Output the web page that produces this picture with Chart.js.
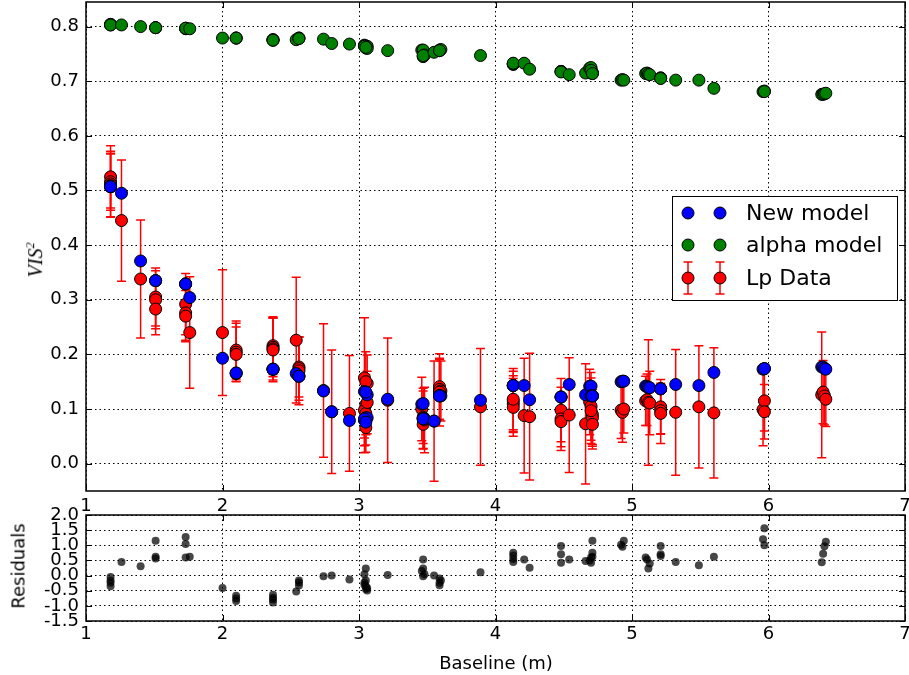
<!DOCTYPE html>
<html>
<head>
<meta charset="utf-8">
<script src="https://cdn.jsdelivr.net/npm/chart.js@4.4.1/dist/chart.umd.min.js"></script>
<style>
  html, body { margin: 0; padding: 0; background: #fff; }
  body { width: 909px; height: 675px; position: relative; overflow: hidden; font-family: "DejaVu Sans", sans-serif; }
  #chart-top { position: absolute; left: 0; top: 0; }
  #chart-res { position: absolute; left: 0; top: 500px; }
  .lbl { position: absolute; color: #000; white-space: nowrap; transform: translate(-50%, -50%); font-size: 18px; }
  .rot { transform: translate(-50%, -50%) rotate(-90deg); }
  #ylab { font-family: "Liberation Serif", "DejaVu Serif", serif; font-style: italic; font-size: 20px; }
  #ylab sup { font-size: 12px; }
</style>
</head>
<body>
<canvas id="chart-top" width="909" height="520" style="width:909px;height:520px"></canvas>
<canvas id="chart-res" width="909" height="175" style="width:909px;height:175px"></canvas>
<div class="lbl rot" id="ylab" style="left:35px;top:260px">VIS<sup>2</sup></div>
<div class="lbl rot" style="left:18px;top:566px">Residuals</div>
<div class="lbl" style="left:496px;top:662px">Baseline (m)</div>
<script>
const baseline = [
  1.18, 1.18, 1.18, 1.18, 1.26, 1.40, 1.51, 1.51, 1.51, 1.73, 1.73, 1.73, 1.76,
  2.00, 2.10, 2.10, 2.10, 2.37, 2.37, 2.37, 2.37, 2.54, 2.56, 2.56, 2.56, 2.74, 2.80, 2.93,
  3.04, 3.06, 3.05, 3.05, 3.04, 3.05, 3.06, 3.04, 3.05, 3.21,
  3.46, 3.47, 3.47, 3.48, 3.47, 3.55, 3.59, 3.59, 3.60, 3.59, 3.89,
  4.13, 4.13, 4.13, 4.13, 4.21, 4.25, 4.48, 4.48, 4.48, 4.54, 4.66,
  4.69, 4.70, 4.71, 4.71, 4.70, 4.71, 4.92, 4.93, 4.94,
  5.10, 5.11, 5.12, 5.13, 5.21, 5.21, 5.21, 5.32, 5.49, 5.60,
  5.96, 5.97, 5.97, 6.39, 6.40, 6.41, 6.42
];
const vis2 = [
  0.525, 0.516, 0.512, 0.509, 0.445, 0.338, 0.305, 0.300, 0.283, 0.292, 0.276, 0.270, 0.240,
  0.240, 0.208, 0.204, 0.200, 0.216, 0.213, 0.210, 0.208, 0.226, 0.177, 0.174, 0.170, 0.134, 0.095, 0.092,
  0.157, 0.147, 0.150, 0.108, 0.098, 0.092, 0.112, 0.080, 0.066, 0.116,
  0.100, 0.085, 0.072, 0.080, 0.083, 0.078, 0.141, 0.136, 0.133, 0.131, 0.104,
  0.114, 0.109, 0.103, 0.118, 0.088, 0.086, 0.098, 0.082, 0.077, 0.089, 0.073,
  0.113, 0.105, 0.090, 0.084, 0.097, 0.072, 0.098, 0.094, 0.100,
  0.115, 0.117, 0.112, 0.111, 0.104, 0.097, 0.092, 0.094, 0.104, 0.093,
  0.099, 0.115, 0.095, 0.126, 0.131, 0.124, 0.118
];
const vis2Err = [
  0.057, 0.052, 0.060, 0.058, 0.111, 0.108, 0.053, 0.053, 0.047, 0.056, 0.050, 0.047, 0.102,
  0.115, 0.053, 0.053, 0.050, 0.053, 0.054, 0.057, 0.058, 0.115, 0.055, 0.058, 0.062, 0.122, 0.113, 0.106,
  0.110, 0.052, 0.055, 0.055, 0.065, 0.058, 0.057, 0.060, 0.045, 0.114,
  0.058, 0.048, 0.045, 0.060, 0.055, 0.110, 0.060, 0.055, 0.055, 0.062, 0.107,
  0.055, 0.052, 0.053, 0.056, 0.105, 0.116, 0.058, 0.058, 0.046, 0.105, 0.110,
  0.060, 0.062, 0.055, 0.052, 0.060, 0.045, 0.052, 0.055, 0.044,
  0.045, 0.047, 0.115, 0.058, 0.050, 0.042, 0.055, 0.115, 0.112, 0.119,
  0.066, 0.055, 0.050, 0.115, 0.058, 0.053, 0.050
];
const newModel = [
  0.507, 0.507, 0.507, 0.507, 0.495, 0.371, 0.335, 0.335, 0.335, 0.329, 0.329, 0.329, 0.304,
  0.193, 0.165, 0.166, 0.166, 0.173, 0.173, 0.173, 0.173, 0.165, 0.160, 0.160, 0.160, 0.133, 0.095, 0.079,
  0.132, 0.126, 0.131, 0.084, 0.080, 0.083, 0.084, 0.082, 0.076, 0.118,
  0.109, 0.110, 0.082, 0.082, 0.082, 0.078, 0.125, 0.124, 0.124, 0.124, 0.116,
  0.143, 0.143, 0.143, 0.143, 0.143, 0.117, 0.122, 0.122, 0.122, 0.145, 0.126,
  0.142, 0.142, 0.124, 0.124, 0.124, 0.124, 0.150, 0.151, 0.151,
  0.142, 0.141, 0.140, 0.139, 0.137, 0.137, 0.137, 0.145, 0.143, 0.167,
  0.173, 0.174, 0.174, 0.177, 0.177, 0.174, 0.173
];
const alphaModel = [
  0.804, 0.804, 0.803, 0.803, 0.803, 0.800, 0.798, 0.798, 0.798, 0.796, 0.797, 0.797, 0.796,
  0.779, 0.779, 0.779, 0.779, 0.776, 0.776, 0.775, 0.775, 0.776, 0.779, 0.779, 0.778, 0.777, 0.769, 0.768,
  0.766, 0.764, 0.763, 0.762, 0.765, 0.761, 0.760, 0.764, 0.762, 0.756,
  0.757, 0.757, 0.745, 0.748, 0.747, 0.753, 0.757, 0.756, 0.758, 0.756, 0.747,
  0.731, 0.731, 0.732, 0.733, 0.733, 0.722, 0.718, 0.718, 0.717, 0.712, 0.715,
  0.724, 0.725, 0.714, 0.716, 0.720, 0.714, 0.702, 0.703, 0.702,
  0.714, 0.715, 0.713, 0.712, 0.706, 0.706, 0.705, 0.702, 0.702, 0.687,
  0.681, 0.682, 0.681, 0.676, 0.676, 0.677, 0.678
];
const residual = [
  -0.35, -0.24, -0.16, -0.05, 0.45, 0.31, 0.56, 0.62, 1.15, 0.60, 1.04, 1.27, 0.62,
  -0.41, -0.84, -0.76, -0.67, -0.89, -0.79, -0.73, -0.63, -0.53, -0.33, -0.23, -0.16, -0.02, 0.00, -0.13,
  -0.23, -0.41, -0.35, -0.44, -0.30, -0.16, -0.49, 0.04, 0.23, 0.02,
  0.15, 0.53, 0.23, 0.04, -0.02, 0.00, -0.32, -0.24, -0.16, -0.10, 0.11,
  0.55, 0.66, 0.75, 0.45, 0.53, 0.26, 0.42, 0.70, 0.98, 0.53, 0.48,
  0.50, 0.60, 0.62, 0.75, 0.42, 1.15, 1.02, 0.95, 1.15,
  0.60, 0.53, 0.23, 0.40, 0.65, 0.98, 0.70, 0.45, 0.34, 0.62,
  1.20, 1.00, 1.56, 0.44, 0.72, 0.97, 1.12
];

const xTicks = [1, 2, 3, 4, 5, 6, 7];
const visTicks = [0.0, 0.1, 0.2, 0.3, 0.4, 0.5, 0.6, 0.7, 0.8];
const resTicks = [-1.5, -1.0, -0.5, 0.0, 0.5, 1.0, 1.5, 2.0];
const legendLabels = ['New model', 'alpha model', 'Lp Data'];

const FONT = '"DejaVu Sans", sans-serif';
const pts = (xs, ys) => xs.map((x, i) => ({ x: x, y: ys[i] }));

function axis(min, max, tickVals, fmt, pad, opts) {
    return Object.assign({
        type: 'linear',
        min: min,
        max: max,
        afterBuildTicks: s => { s.ticks = tickVals.map(v => ({ value: v })); },
        grid: { color: '#000', lineWidth: 1, drawTicks: false },
        border: { display: false, dash: [1.5, 3] },
        ticks: {
            color: '#000',
            font: { family: FONT, size: 18 },
            autoSkip: false,
            maxRotation: 0,
            padding: pad,
            callback: fmt,
        },
    }, opts);
}

const errorBars = {
    id: 'errorBars',
    beforeDatasetsDraw(chart) {
        const { ctx, chartArea: a, scales: { x, y } } = chart;
        ctx.save();
        ctx.beginPath();
        ctx.rect(a.left, a.top, a.right - a.left, a.bottom - a.top);
        ctx.clip();
        ctx.strokeStyle = '#ff0000';
        ctx.lineWidth = 1.5;
        baseline.forEach((b, i) => {
            const px = x.getPixelForValue(b);
            const hi = y.getPixelForValue(vis2[i] + vis2Err[i]);
            const lo = y.getPixelForValue(vis2[i] - vis2Err[i]);
            ctx.beginPath();
            ctx.moveTo(px, hi); ctx.lineTo(px, lo);
            ctx.moveTo(px - 4.5, hi); ctx.lineTo(px + 4.5, hi);
            ctx.moveTo(px - 4.5, lo); ctx.lineTo(px + 4.5, lo);
            ctx.stroke();
        });
        ctx.restore();
    }
};

// box round the axes plus inward tick marks on all four sides
const frame = {
    id: 'frame',
    afterDatasetsDraw(chart) {
        const { ctx, chartArea: a, scales: { x, y } } = chart;
        ctx.save();
        ctx.strokeStyle = '#000';
        ctx.lineWidth = 1;
        ctx.beginPath();
        x.ticks.forEach(t => {
            const px = Math.round(x.getPixelForValue(t.value)) + 0.5;
            ctx.moveTo(px, a.bottom); ctx.lineTo(px, a.bottom - 6);
            ctx.moveTo(px, a.top); ctx.lineTo(px, a.top + 6);
        });
        y.ticks.forEach(t => {
            const py = Math.round(y.getPixelForValue(t.value)) + 0.5;
            ctx.moveTo(a.left, py); ctx.lineTo(a.left + 6, py);
            ctx.moveTo(a.right, py); ctx.lineTo(a.right - 6, py);
        });
        ctx.stroke();
        ctx.lineWidth = 1.5;
        ctx.strokeRect(a.left, a.top, a.right - a.left, a.bottom - a.top);
        ctx.restore();
    }
};

const legendBox = {
    id: 'legendBox',
    afterDraw(chart) {
        const { ctx } = chart;
        const colors = ['#0000ff', '#008000', '#ff0000'];
        const rows = [213, 245, 278];
        ctx.save();
        ctx.fillStyle = '#fff';
        ctx.strokeStyle = '#000';
        ctx.lineWidth = 1;
        ctx.fillRect(672, 196, 225, 104);
        ctx.strokeRect(672.5, 196.5, 225, 104);
        legendLabels.forEach((lab, i) => {
            const cy = rows[i];
            [688, 720].forEach(cx => {
                if (i === 2) {
                    ctx.strokeStyle = '#ff0000';
                    ctx.lineWidth = 1.5;
                    ctx.beginPath();
                    ctx.moveTo(cx, cy - 16); ctx.lineTo(cx, cy + 16);
                    ctx.moveTo(cx - 4.5, cy - 16); ctx.lineTo(cx + 4.5, cy - 16);
                    ctx.moveTo(cx - 4.5, cy + 16); ctx.lineTo(cx + 4.5, cy + 16);
                    ctx.stroke();
                }
                ctx.beginPath();
                ctx.arc(cx, cy, 6, 0, Math.PI * 2);
                ctx.fillStyle = colors[i];
                ctx.fill();
                ctx.strokeStyle = '#000';
                ctx.lineWidth = 1;
                ctx.stroke();
            });
            ctx.fillStyle = '#000';
            ctx.font = '22px ' + FONT;
            ctx.textBaseline = 'middle';
            ctx.fillText(lab, 746, cy + 1);
        });
        ctx.restore();
    }
};

const marker = color => ({
    backgroundColor: color,
    borderColor: '#000',
    borderWidth: 1,
    pointRadius: 6,
    pointHoverRadius: 6,
});

const noPadX = s => { s.paddingLeft = 0; s.paddingRight = 0; };
const noPadY = s => { s.paddingTop = 0; s.paddingBottom = 0; s.width = 86; };

new Chart(document.getElementById('chart-top'), {
    type: 'scatter',
    data: {
        datasets: [
            Object.assign({ label: legendLabels[0], data: pts(baseline, newModel), order: 1 }, marker('#0000ff')),
            Object.assign({ label: legendLabels[1], data: pts(baseline, alphaModel), order: 2 }, marker('#008000')),
            Object.assign({ label: legendLabels[2], data: pts(baseline, vis2), order: 3 }, marker('#ff0000')),
        ],
    },
    options: {
        responsive: false,
        animation: false,
        events: [],
        clip: false,
        layout: { autoPadding: false, padding: { top: 2, right: 4, left: 0, bottom: 0 } },
        plugins: { legend: { display: false }, tooltip: { enabled: false } },
        scales: {
            x: axis(1, 7, xTicks, v => String(v), 5, {
                afterFit: s => { noPadX(s); s.height = 29; },
            }),
            y: axis(-0.05, 0.845, visTicks, v => v.toFixed(1), 7, { afterFit: noPadY }),
        },
    },
    plugins: [errorBars, frame, legendBox],
});

new Chart(document.getElementById('chart-res'), {
    type: 'scatter',
    data: {
        datasets: [{
            label: 'Residuals',
            data: pts(baseline, residual),
            backgroundColor: 'rgba(0,0,0,0.72)',
            borderWidth: 0,
            pointRadius: 4,
            pointHoverRadius: 4,
        }],
    },
    options: {
        responsive: false,
        animation: false,
        events: [],
        layout: { autoPadding: false, padding: { top: 15, right: 4, left: 0, bottom: 0 } },
        plugins: { legend: { display: false }, tooltip: { enabled: false } },
        scales: {
            x: axis(1, 7, xTicks, v => String(v), 3, {
                afterFit: s => { noPadX(s); s.height = 54; },
            }),
            y: axis(-1.5, 2.0, resTicks, v => v.toFixed(1), 7, { afterFit: noPadY }),
        },
    },
    plugins: [frame],
});
</script>
</body>
</html>
